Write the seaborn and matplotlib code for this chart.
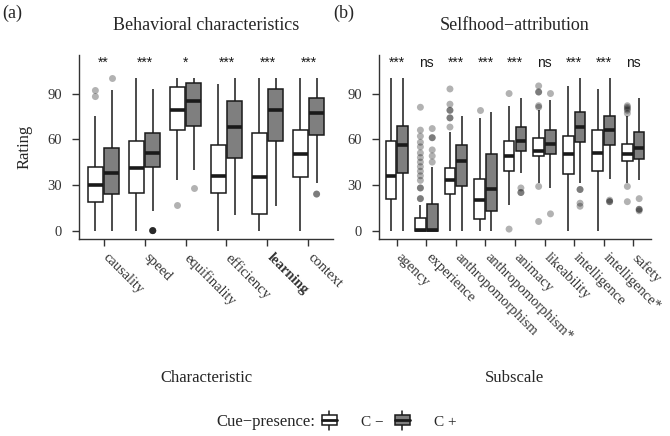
import matplotlib
matplotlib.use("Agg")
import matplotlib.pyplot as plt
import matplotlib.transforms as mtransforms
import seaborn as sns
import pandas as pd
from matplotlib.patches import Patch, Rectangle
from matplotlib.lines import Line2D
from matplotlib.legend_handler import HandlerBase

# ---- data ----
cues = ["C−", "C+"]

behav_items = ["causality", "speed", "equifinality", "efficiency", "learning", "context"]
# (lower whisker, q1, median, q3, upper whisker)
behav_neg = [(0, 19, 30, 42, 75), (0, 25, 41, 59, 100), (33, 66, 79, 94, 100),
             (0, 25, 36, 56, 96), (0, 11, 35, 64, 100), (0, 35, 50, 66, 100)]
behav_pos = [(0, 24, 38, 54, 92), (13, 42, 51, 64, 93), (40, 69, 85, 97, 100),
             (10, 48, 68, 85, 100), (16, 59, 79, 93, 100), (31, 63, 77, 87, 100)]
behav_out_neg = [[88, 92], [], [17], [], [], []]
behav_out_pos = [[100], [0, 0, 0, 0, 0], [28], [], [], [24, 24]]
behav_sig = ["**", "***", "*", "***", "***", "***"]

self_items = ["agency", "experience", "anthropomorphism", "anthropomorphism*", "animacy",
              "likeability", "intelligence", "intelligence*", "safety"]
self_neg = [(0, 21, 36, 59, 100), (0, 0, 0.5, 8, 16.5), (0, 24, 33, 41, 65),
            (0, 7.5, 20, 34, 74), (17, 39, 49, 59, 82), (31, 49, 52, 61, 79),
            (0, 37, 50, 62, 95), (0, 39, 51, 66, 93), (31, 46, 50, 57, 75)]
self_pos = [(0, 38, 56, 69, 100), (0, 0, 0.5, 17.5, 41.5), (0, 29, 46, 56, 75),
            (0, 13, 27, 50, 78), (38, 52, 59, 68, 87), (28, 50, 57, 66, 86),
            (31, 58, 68, 78, 100), (34, 56, 66, 75, 100), (33, 47, 54, 65, 87)]
self_out_neg = [[], [81, 66, 62, 58, 55, 51, 48, 45, 42, 39, 36, 33, 28, 28, 21, 21],
                [93, 83, 79, 79, 74, 74, 68], [79], [90, 1], [95, 91, 91, 82, 81, 29, 6],
                [], [], [82, 81, 80, 79, 77, 29, 19]]
self_out_pos = [[], [67, 61, 61, 53, 49, 45], [], [], [28, 25, 25], [90, 11],
                [27, 27, 18, 16], [20, 19, 19], [21, 14, 14, 13]]
self_sig = ["***", "ns", "***", "***", "***", "ns", "***", "***", "ns"]

fills = {"C−": "white", "C+": "#7f7f7f"}
edge = "#1a1a1a"

sns.set_theme(style="ticks")
plt.rcParams["font.family"] = ["Liberation Serif", "DejaVu Serif"]
plt.rcParams["axes.unicode_minus"] = False


def long_frame(items, neg, pos):
    rows = []
    for cue, table in zip(cues, (neg, pos)):
        for item, vals in zip(items, table):
            rows += [(item, cue, v) for v in vals]
    return pd.DataFrame(rows, columns=["item", "cue", "rating"])


def draw_panel(ax, items, neg, pos, out_neg, out_pos, sig, bold=None):
    box_df = long_frame(items, neg, pos)
    out_df = long_frame(items, out_neg, out_pos)
    sns.boxplot(data=box_df, x="item", y="rating", hue="cue", order=items, hue_order=cues,
                palette=fills, saturation=1, whis=(0, 100), width=0.8, gap=0.1,
                showcaps=False, fliersize=0, linecolor=edge, linewidth=1.1,
                medianprops=dict(linewidth=2.6, color=edge), legend=False, ax=ax)
    sns.stripplot(data=out_df, x="item", y="rating", hue="cue", order=items, hue_order=cues,
                  dodge=True, jitter=False, palette={"C−": "black", "C+": "black"},
                  alpha=0.3, size=5, linewidth=0, legend=False, ax=ax)
    for i, s in enumerate(sig):
        ax.text(i, 107.5, s, ha="center", va="baseline", fontsize=10,
                family=["Liberation Sans", "DejaVu Sans"], color=edge)
    ax.set_xlim(-0.6, len(items) - 0.4)
    ax.set_ylim(-5.5, 115.3)
    ax.set_yticks([0, 30, 60, 90])
    ax.set_xlabel("")
    ax.set_ylabel("")
    ax.set_xticks(range(len(items)))
    ax.set_xticklabels(items, rotation=-45, ha="left", va="top", rotation_mode="anchor")
    ax.tick_params(axis="both", labelsize=10.5, labelcolor="#333333", color="#333333",
                   length=5, width=1)
    ax.tick_params(axis="y", pad=7.5)
    shift = mtransforms.ScaledTranslation(6 / 100, 0, ax.figure.dpi_scale_trans)
    for lab in ax.get_xticklabels():
        lab.set_transform(lab.get_transform() + shift)
    for side in ("left", "bottom"):
        ax.spines[side].set_color("#333333")
        ax.spines[side].set_linewidth(1)
    sns.despine(ax=ax)
    if bold is not None:
        ax.get_xticklabels()[bold].set_fontweight("bold")


class BoxKey(HandlerBase):
    def create_artists(self, legend, orig_handle, xdescent, ydescent, width, height,
                       fontsize, trans):
        x0, y0 = -xdescent, -ydescent
        xm, ym = x0 + width / 2, y0 + height / 2
        stub = height * 0.5
        whisk = Line2D([xm, xm], [y0 - stub, y0 + height + stub], color=edge, lw=1.1)
        box = Rectangle((x0, y0), width, height, facecolor=orig_handle.get_facecolor(),
                        edgecolor=edge, lw=1.1)
        med = Line2D([x0, x0 + width], [ym, ym], color=edge, lw=2)
        for a in (whisk, box, med):
            a.set_transform(trans)
        return [whisk, box, med]


W, H = 670, 436
fig = plt.figure(figsize=(6.7, 4.36), dpi=100)
ax_a = fig.add_axes([79 / W, 1 - 239 / H, 254 / W, 184 / H])
ax_b = fig.add_axes([379 / W, 1 - 239 / H, 272 / W, 184 / H])

draw_panel(ax_a, behav_items, behav_neg, behav_pos, behav_out_neg, behav_out_pos,
           behav_sig, bold=4)
draw_panel(ax_b, self_items, self_neg, self_pos, self_out_neg, self_out_pos, self_sig)

fig.text(2 / W, 1 - 13 / H, "(a)", fontsize=13, va="center", ha="left")
fig.text(333 / W, 1 - 13 / H, "(b)", fontsize=13, va="center", ha="left")
fig.text(206 / W, 1 - 25 / H, "Behavioral characteristics", fontsize=13, ha="center", va="center")
fig.text(515 / W, 1 - 25 / H, "Selfhood−attribution", fontsize=13, ha="center", va="center")
fig.text(25 / W, 1 - 147 / H, "Rating", fontsize=12, rotation=90, ha="center", va="center")
fig.text(206 / W, 1 - 378 / H, "Characteristic", fontsize=12, ha="center", va="center")
fig.text(515 / W, 1 - 378 / H, "Subscale", fontsize=12, ha="center", va="center")

fig.text(315 / W, 1 - 422 / H, "Cue−presence:", fontsize=12, ha="right", va="center")
handles = [Patch(facecolor=fills[c]) for c in cues]
fig.legend(handles=handles, labels=["C −", "C +"], handler_map={Patch: BoxKey()},
           ncol=2, frameon=False, loc="center left", bbox_to_anchor=(322 / W, 1 - 422 / H),
           borderpad=0, borderaxespad=0, handlelength=0.95, handleheight=0.6,
           handletextpad=1.6, columnspacing=0.75, fontsize=11)

fig.savefig("out.png", dpi=100)
